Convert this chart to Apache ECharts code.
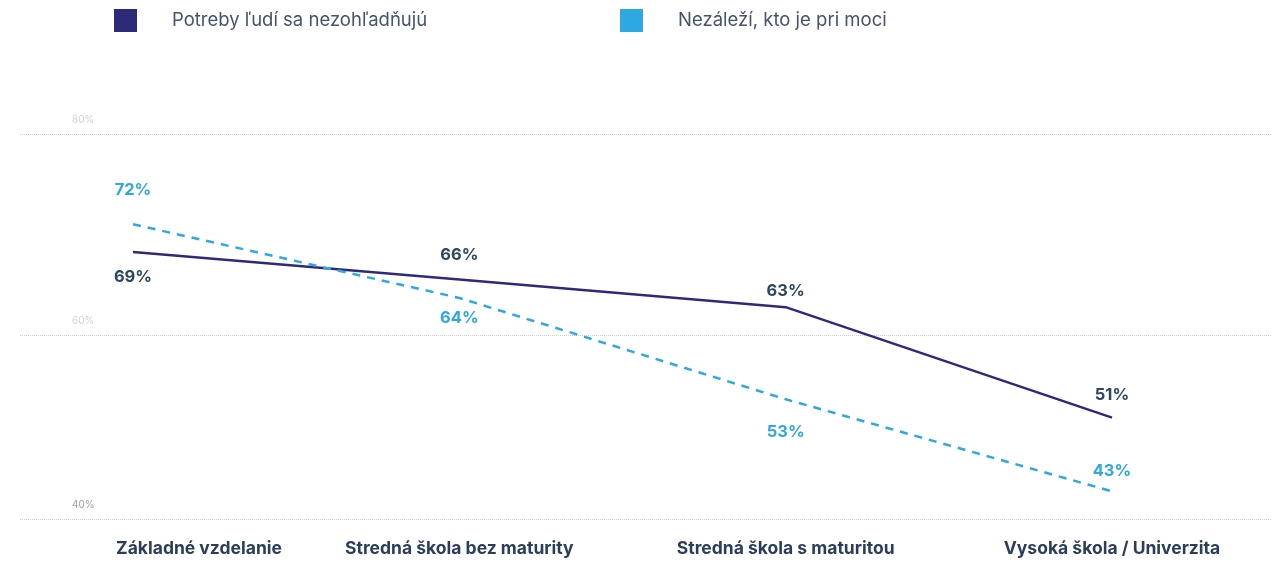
<!DOCTYPE html>
<html>
<head>
<meta charset="utf-8">
<script src="https://cdn.jsdelivr.net/npm/echarts@6/dist/echarts.min.js"></script>
<style>
html, body { margin: 0; padding: 0; background: #fff; }
#main { width: 1274px; height: 562px; }
</style>
</head>
<body>
<div id="main"></div>
<script>
var categories = ['Základné vzdelanie', 'Stredná škola bez maturity', 'Stredná škola s maturitou', 'Vysoká škola / Univerzita'];
var seriesNames = ['Potreby ľudí sa nezohľadňujú', 'Nezáleží, kto je pri moci'];
var needsIgnored = [69, 66, 63, 51];
var doesntMatter = [72, 64, 53, 43];
var yTicks = [40, 60, 80];

var chart = echarts.init(document.getElementById('main'));

var dark = '#2e2a7a';
var light = '#2ea8e0';
var font = 'Inter';
var yMin = 40, yMax = 81.8;
// top gridline sits at the edge of the plot, like in the original
var yTickPos = [40, 60, yMax];

// label placement for each point
var darkPos = ['bottom', 'top', 'top', 'top'];
var lightPos = ['top', 'bottom', 'bottom', 'top'];
var lightDist = [26, 12, 24, 12];
var darkDist = [17, 16, 8, 14];

function withLabels(values, pos, dist) {
    return values.map(function (v, i) {
        return { value: v, label: { position: pos[i], distance: dist[i] } };
    });
}

var legendBase = {
    icon: 'rect',
    itemWidth: 23,
    itemHeight: 23,
    top: 4,
    selectedMode: false,
    textStyle: { fontFamily: font, fontSize: 18.5, color: '#44546e', padding: [0, 0, 0, 30] }
};

var option = {
    animation: false,
    legend: [
        Object.assign({}, legendBase, { left: 109, data: [seriesNames[0]], itemStyle: { color: dark, borderWidth: 0 } }),
        Object.assign({}, legendBase, { left: 615, data: [seriesNames[1]], itemStyle: { color: light, borderWidth: 0 } })
    ],
    grid: [
        { left: 20, right: 2, top: 134, bottom: 43 },
        { left: 133, right: 162, top: 134, bottom: 43 }
    ],
    xAxis: [
        { type: 'value', gridIndex: 0, min: 0, max: 1, show: false },
        {
            type: 'category',
            gridIndex: 1,
            data: categories,
            boundaryGap: false,
            axisLine: { show: false },
            axisTick: { show: false },
            axisLabel: {
                margin: 21,
                fontFamily: font,
                fontSize: 17.5,
                fontWeight: 'bold',
                color: '#2b3d5a',
                formatter: function (v, i) {
                    return i === 0 ? '{first|' + v + '}' : v;
                },
                rich: {
                    first: { padding: [0, 0, 0, 132], fontFamily: font, fontSize: 17.5, fontWeight: 'bold', color: '#2b3d5a' }
                }
            }
        }
    ],
    yAxis: [
        {
            type: 'value',
            gridIndex: 0,
            min: yMin,
            max: yMax,
            axisLine: { show: false },
            axisTick: { show: false, customValues: yTickPos },
            splitLine: { show: true, lineStyle: { color: '#cfcfcf', type: 'dotted', width: 1 } },
            axisLabel: {
                inside: true,
                margin: 52,
                verticalAlign: 'bottom',
                padding: [0, 0, 9, 0],
                fontFamily: font,
                fontSize: 10,
                color: '#d2d2d2',
                customValues: yTickPos,
                formatter: function (v) {
                    var t = yTicks[yTickPos.indexOf(v)];
                    return t === yTicks[0] ? '{low|' + t + '%}' : t + '%';
                },
                rich: {
                    low: { fontFamily: font, fontSize: 10, color: '#a0a0a0' }
                }
            }
        },
        { type: 'value', gridIndex: 1, min: yMin, max: yMax, show: false, splitLine: { show: false } }
    ],
    series: [
        {
            name: seriesNames[0],
            type: 'line',
            xAxisIndex: 1,
            yAxisIndex: 1,
            data: withLabels(needsIgnored, darkPos, darkDist),
            symbol: 'circle',
            symbolSize: 0.1,
            showSymbol: true,
            color: dark,
            lineStyle: { color: dark, width: 2.5 },
            label: {
                show: true,
                fontFamily: font,
                fontSize: 16.5,
                fontWeight: 'bold',
                color: '#2e4760',
                formatter: '{c}%'
            }
        },
        {
            name: seriesNames[1],
            type: 'line',
            xAxisIndex: 1,
            yAxisIndex: 1,
            data: withLabels(doesntMatter, lightPos, lightDist),
            symbol: 'circle',
            symbolSize: 0.1,
            showSymbol: true,
            color: light,
            lineStyle: { color: light, width: 2.5, type: [8, 7] },
            label: {
                show: true,
                fontFamily: font,
                fontSize: 16.5,
                fontWeight: 'bold',
                color: light,
                formatter: '{c}%'
            }
        }
    ]
};

chart.setOption(option);
</script>
</body>
</html>
